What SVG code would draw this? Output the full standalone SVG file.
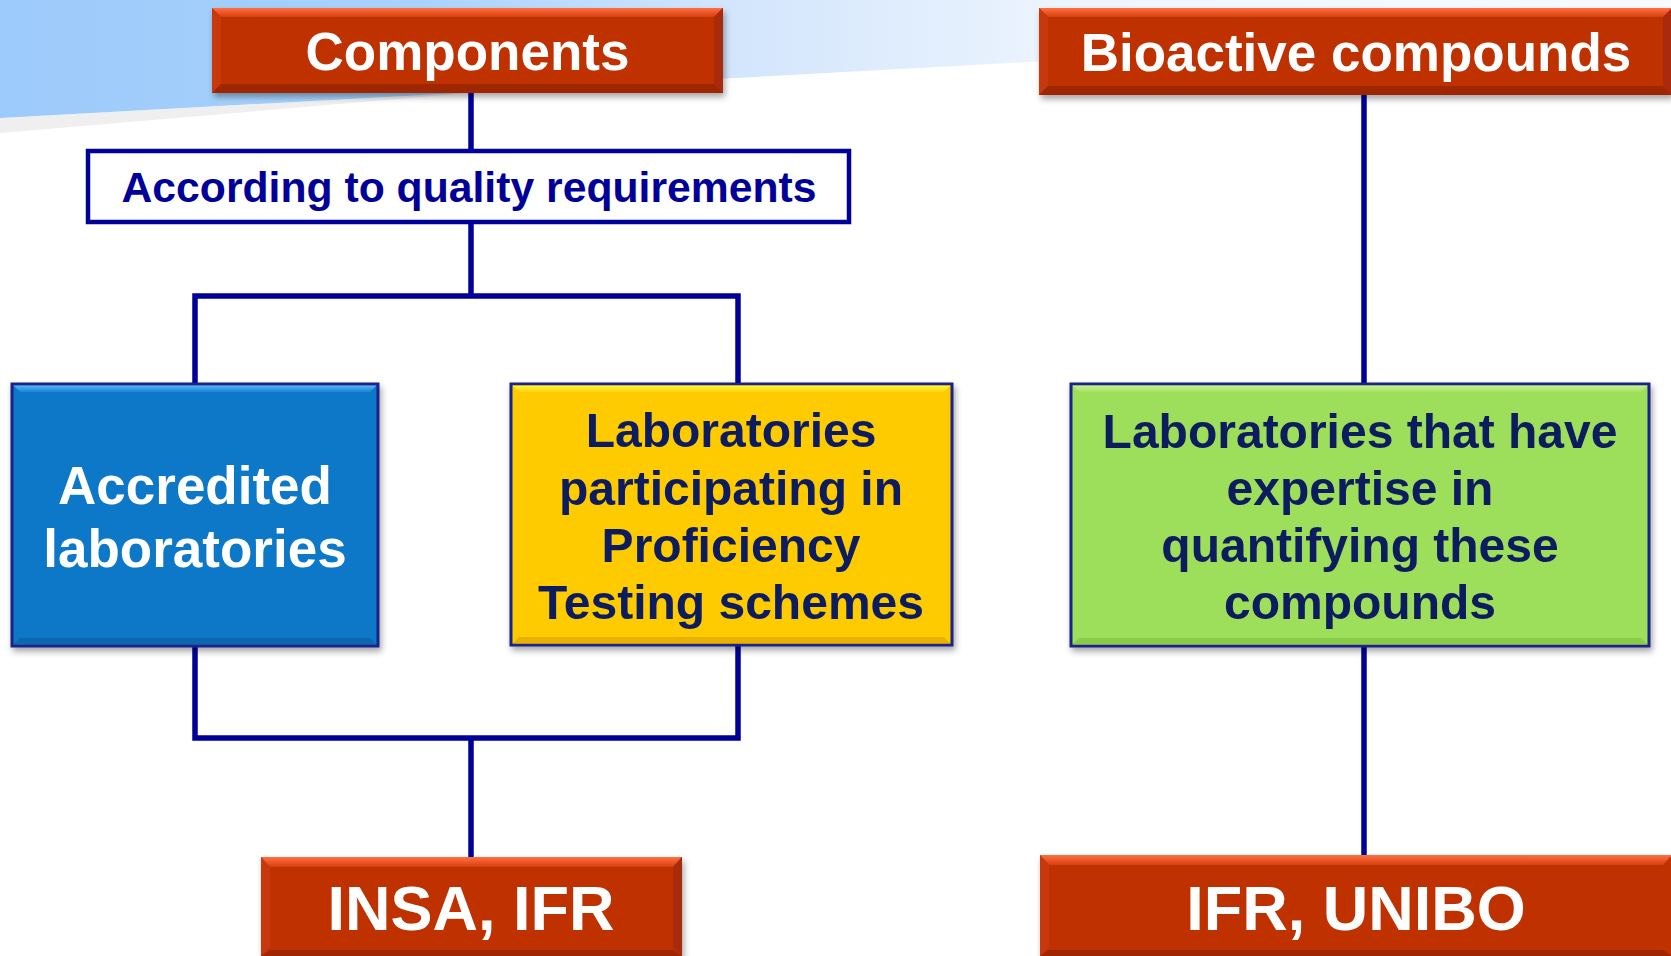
<svg xmlns="http://www.w3.org/2000/svg" width="1671" height="956" viewBox="0 0 1671 956">
  <defs>
    <linearGradient id="skyFade" x1="0" y1="0" x2="1671" y2="0" gradientUnits="userSpaceOnUse">
      <stop offset="0" stop-color="#9ccafa"/>
      <stop offset="0.25" stop-color="#a9d2fc"/>
      <stop offset="0.42" stop-color="#d0e4fc"/>
      <stop offset="0.65" stop-color="#eef5fe"/>
      <stop offset="1" stop-color="#f7fbff"/>
    </linearGradient>
    <linearGradient id="redTop" x1="0" y1="0" x2="0" y2="1">
      <stop offset="0" stop-color="#ff6f42"/>
      <stop offset="1" stop-color="#d8400f"/>
    </linearGradient>
    <linearGradient id="blueTop" x1="0" y1="0" x2="0" y2="1">
      <stop offset="0" stop-color="#5ab4f5"/>
      <stop offset="1" stop-color="#1585d6"/>
    </linearGradient>
    <linearGradient id="yellowTop" x1="0" y1="0" x2="0" y2="1">
      <stop offset="0" stop-color="#fff43a"/>
      <stop offset="1" stop-color="#ffd70a"/>
    </linearGradient>
    <linearGradient id="greenTop" x1="0" y1="0" x2="0" y2="1">
      <stop offset="0" stop-color="#c6f08e"/>
      <stop offset="1" stop-color="#a6e364"/>
    </linearGradient>
    <filter id="shadow" x="-5%" y="-10%" width="115%" height="130%">
      <feDropShadow dx="2" dy="4" stdDeviation="3" flood-color="#000" flood-opacity="0.35"/>
    </filter>
  </defs>
  <style>
    .wire { fill: none; stroke: #000099; stroke-width: 5.5; stroke-linejoin: miter; stroke-linecap: butt; }
    .red { fill: #bf3006; }
    .redTop { fill: url(#redTop); }
    .redSide { fill: #c8390d; }
    .redLow { fill: #9e2806; }
    .redRight { fill: #a92b07; }
    .title { font-family: "Liberation Sans", Arial, sans-serif; font-weight: bold; fill: #ffffff; text-anchor: middle; }
    .frame { stroke: #1c2288; stroke-width: 3; }
    .dark { font-family: "Liberation Sans", Arial, sans-serif; font-weight: bold; fill: #0d1d5e; text-anchor: middle; font-size: 48px; }
  </style>

  <!-- background -->
  <rect x="0" y="0" width="1671" height="956" fill="#ffffff"/>
  <polygon points="0,118 480,92 0,133" fill="#efefef"/>
  <polygon points="0,0 1671,0 1671,27 0,118" fill="url(#skyFade)"/>

  <!-- connectors -->
  <g id="connectors">
    <path class="wire" d="M471,93 V149"/>
    <path class="wire" d="M471,224 V296"/>
    <path class="wire" d="M195,383 V296 H738 V383"/>
    <path class="wire" d="M195,646 V738 H738 V646"/>
    <path class="wire" d="M471,738 V857"/>
    <path class="wire" d="M1364,95 V383"/>
    <path class="wire" d="M1364,647 V855"/>
  </g>

  <!-- Components header -->
  <g id="components" filter="url(#shadow)">
    <rect class="red" x="212" y="8" width="511" height="85"/>
    <polygon class="redTop" points="212,8 723,8 714,17 221,17"/>
    <polygon class="redSide" points="212,8 221,17 221,84 212,93"/>
    <polygon class="redRight" points="723,8 723,93 714,84 714,17"/>
    <polygon class="redLow" points="212,93 723,93 714,84 221,84"/>
    <text class="title" x="467.5" y="70" font-size="53">Components</text>
  </g>

  <!-- Bioactive compounds header -->
  <g id="bioactive" filter="url(#shadow)">
    <rect class="red" x="1039" y="8" width="633" height="87"/>
    <polygon class="redTop" points="1039,8 1672,8 1663,17 1048,17"/>
    <polygon class="redSide" points="1039,8 1048,17 1048,86 1039,95"/>
    <polygon class="redRight" points="1672,8 1672,95 1663,86 1663,17"/>
    <polygon class="redLow" points="1039,95 1672,95 1663,86 1048,86"/>
    <text class="title" x="1356" y="71" font-size="53">Bioactive compounds</text>
  </g>

  <!-- quality requirement -->
  <g id="quality">
    <rect x="88" y="151" width="761" height="71" fill="#ffffff" stroke="#000099" stroke-width="4.5"/>
    <text x="469" y="202" font-family="Liberation Sans, Arial, sans-serif" font-weight="bold" font-size="42.7" fill="#000099" text-anchor="middle">According to quality requirements</text>
  </g>

  <!-- Accredited laboratories -->
  <g id="accredited" filter="url(#shadow)">
    <rect class="frame" x="12" y="384" width="366" height="262" fill="#0777c8"/>
    <polygon points="13.5,385.5 376.5,385.5 370,392 20,392" fill="url(#blueTop)"/>
    <polygon points="13.5,644.5 376.5,644.5 370,638 20,638" fill="#0a66ae"/>
    <text class="title" x="195" y="504" font-size="53">Accredited</text>
    <text class="title" x="195" y="567" font-size="53">laboratories</text>
  </g>

  <!-- Proficiency testing laboratories -->
  <g id="proficiency" filter="url(#shadow)">
    <rect class="frame" x="511" y="384" width="441" height="261" fill="#fecb05"/>
    <polygon points="512.5,385.5 950.5,385.5 944,392 519,392" fill="url(#yellowTop)"/>
    <polygon points="512.5,643.5 950.5,643.5 944,637 519,637" fill="#e8b300"/>
    <text class="dark" x="731" y="447">Laboratories</text>
    <text class="dark" x="731" y="505">participating in</text>
    <text class="dark" x="731" y="562">Proficiency</text>
    <text class="dark" x="731" y="619">Testing schemes</text>
  </g>

  <!-- Expert laboratories -->
  <g id="expertise" filter="url(#shadow)">
    <rect class="frame" x="1071" y="384" width="578" height="262" fill="#9ddf5a"/>
    <polygon points="1072.5,385.5 1647.5,385.5 1641,392 1079,392" fill="url(#greenTop)"/>
    <polygon points="1072.5,644.5 1647.5,644.5 1641,638 1079,638" fill="#8acb48"/>
    <text class="dark" x="1360" y="448">Laboratories that have</text>
    <text class="dark" x="1360" y="505">expertise in</text>
    <text class="dark" x="1360" y="562">quantifying these</text>
    <text class="dark" x="1360" y="619">compounds</text>
  </g>

  <!-- INSA, IFR -->
  <g id="insa" filter="url(#shadow)">
    <rect class="red" x="261" y="857" width="421" height="99"/>
    <polygon class="redTop" points="261,857 682,857 673,867 270,867"/>
    <polygon class="redSide" points="261,857 270,867 270,947 261,956"/>
    <polygon class="redRight" points="682,857 682,956 673,947 673,867"/>
    <polygon class="redLow" points="261,956 682,956 673,950 270,950"/>
    <text class="title" x="471" y="930" font-size="63">INSA, IFR</text>
  </g>

  <!-- IFR, UNIBO -->
  <g id="unibo" filter="url(#shadow)">
    <rect class="red" x="1040" y="855" width="632" height="101"/>
    <polygon class="redTop" points="1040,855 1672,855 1663,865 1049,865"/>
    <polygon class="redSide" points="1040,855 1049,865 1049,947 1040,956"/>
    <polygon class="redLow" points="1040,956 1672,956 1663,950 1049,950"/>
    <text class="title" x="1356" y="930" font-size="63">IFR, UNIBO</text>
  </g>
</svg>
